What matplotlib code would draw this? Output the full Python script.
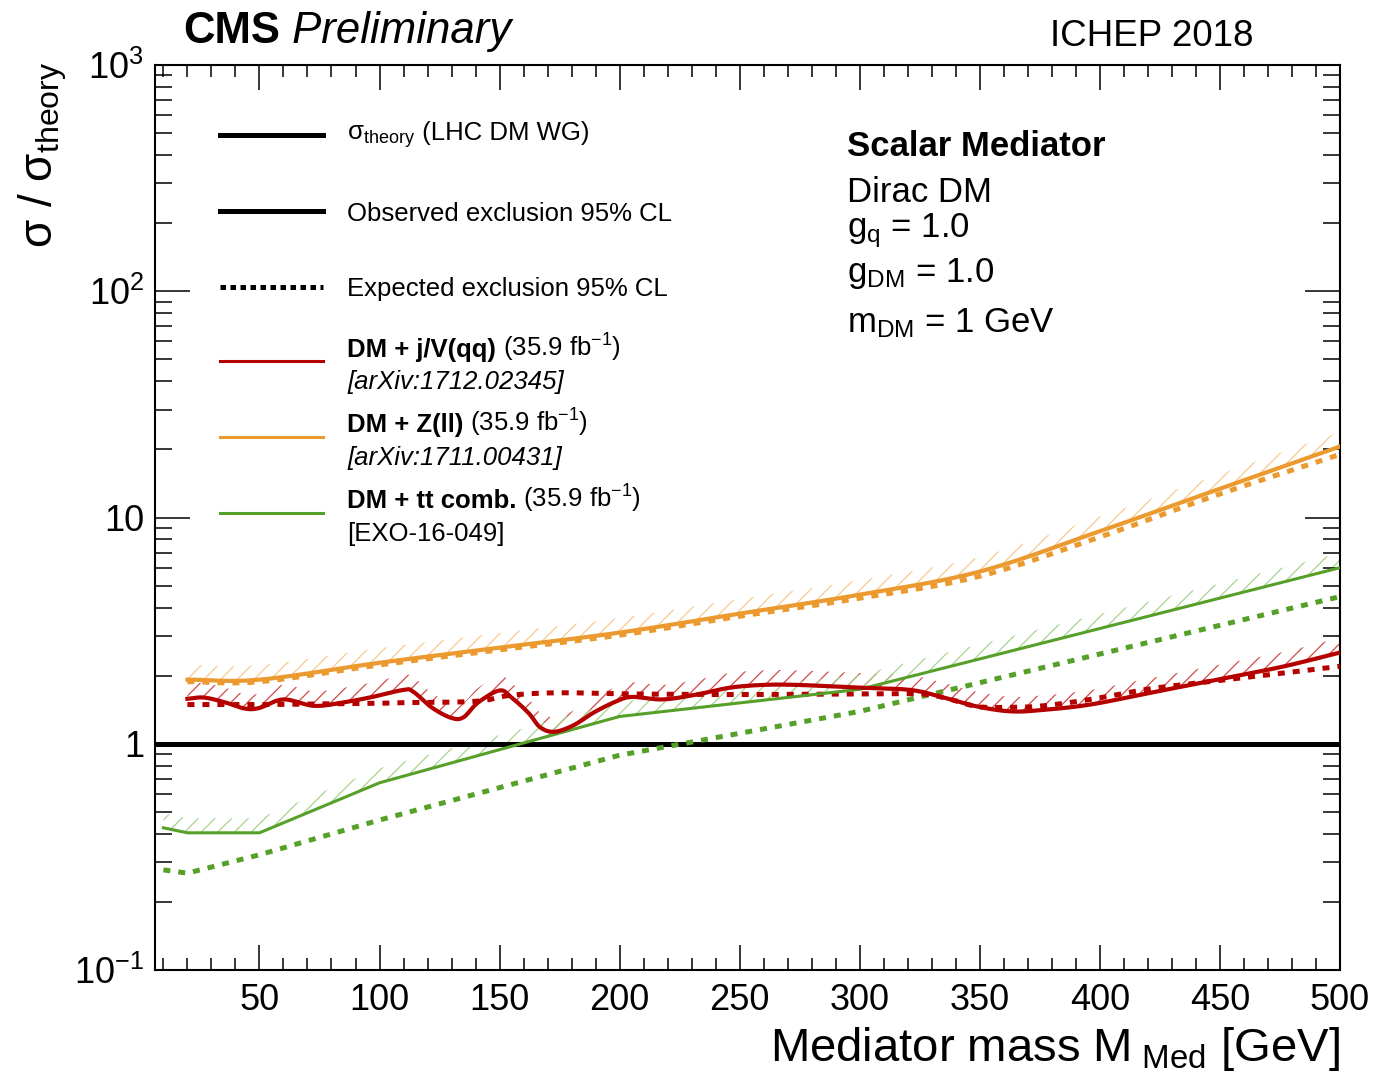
import matplotlib
matplotlib.use('Agg')
import matplotlib.pyplot as plt
import numpy as np
from matplotlib.ticker import MultipleLocator, LogLocator, NullFormatter, FixedLocator, FixedFormatter

plt.rcParams['font.family'] = ['Liberation Sans', 'DejaVu Sans']
plt.rcParams['mathtext.fontset'] = 'custom'
plt.rcParams['mathtext.rm'] = 'Liberation Sans'
plt.rcParams['mathtext.it'] = 'Liberation Sans:italic'
plt.rcParams['mathtext.bf'] = 'Liberation Sans:bold'
plt.rcParams['hatch.linewidth'] = 0.9

# ---------------- data ----------------
jv_obs_mass = [20, 27, 36, 44, 50, 60, 73, 86, 97, 110, 114, 122, 130, 135, 141, 150, 155,
               162, 167, 173, 181, 189, 198, 205, 218, 232, 246, 260, 274, 300, 321, 335,
               349, 363, 376, 396, 421, 449, 476, 500]
jv_obs = [1.58, 1.60, 1.52, 1.43, 1.44, 1.57, 1.47, 1.53, 1.61, 1.73, 1.70, 1.44, 1.30, 1.31,
          1.52, 1.72, 1.60, 1.37, 1.18, 1.13, 1.21, 1.37, 1.53, 1.61, 1.57, 1.65, 1.77, 1.82,
          1.82, 1.77, 1.73, 1.60, 1.46, 1.39, 1.41, 1.49, 1.68, 1.92, 2.19, 2.53]
jv_exp_mass = [20, 50, 75, 100, 110, 140, 155, 175, 205, 250, 300, 325, 335, 349, 363, 376,
               396, 421, 449, 476, 500]
jv_exp = [1.49, 1.49, 1.50, 1.51, 1.52, 1.54, 1.64, 1.68, 1.66, 1.65, 1.66, 1.66, 1.60, 1.46,
          1.45, 1.47, 1.57, 1.75, 1.90, 2.05, 2.20]

zll_mass = [20, 50, 100, 150, 200, 250, 300, 350, 400, 450, 500]
zll_obs = [1.92, 1.92, 2.28, 2.66, 3.10, 3.76, 4.56, 5.77, 8.7, 13.4, 20.6]
zll_exp = [1.88, 1.88, 2.23, 2.60, 3.02, 3.66, 4.40, 5.50, 8.2, 12.7, 19.0]

tt_mass = [10, 20, 50, 100, 200, 300, 500]
tt_obs = [0.425, 0.404, 0.404, 0.672, 1.32, 1.74, 6.0]
tt_exp = [0.277, 0.268, 0.323, 0.46, 0.89, 1.39, 4.47]

y_ticks = [0.1, 1, 10, 100, 1000]
y_tick_labels = [r'$\mathregular{10^{-1}}$', '1', '10', r'$\mathregular{10^{2}}$', r'$\mathregular{10^{3}}$']

RED, ORANGE, GREEN = '#b50000', '#eb9a2f', '#56a02a'
RED_H, ORANGE_H, GREEN_H = '#d24a4a', '#f6c98e', '#a8d290'


def smooth(xs, ys, n=10):
    """Catmull-Rom curve through the read points (like ROOT's 'C' draw option), in log-y."""
    p = np.column_stack([np.asarray(xs, float), np.log10(np.asarray(ys, float))])
    p = np.vstack([2 * p[0] - p[1], p, 2 * p[-1] - p[-2]])
    out = []
    t = np.linspace(0, 1, n, endpoint=False)[:, None]
    for i in range(1, len(p) - 2):
        p0, p1, p2, p3 = p[i - 1], p[i], p[i + 1], p[i + 2]
        seg = 0.5 * ((2 * p1) + (-p0 + p2) * t + (2 * p0 - 5 * p1 + 4 * p2 - p3) * t ** 2
                     + (-p0 + 3 * p1 - 3 * p2 + p3) * t ** 3)
        out.append(seg)
    out.append(p[-2][None, :])
    out = np.vstack(out)
    return out[:, 0], 10 ** out[:, 1]


W, H = 1375, 1080
fig = plt.figure(figsize=(W / 100, H / 100), dpi=100)
ax = fig.add_axes([155 / W, 1 - 970 / H, (1340 - 155) / W, (970 - 65) / H])
ax.set_yscale('log')
ax.set_xlim(6.5, 500)
ax.set_ylim(0.1, 1000)

jv_obs_x, jv_obs_y = smooth(jv_obs_mass, jv_obs)
jv_exp_x, jv_exp_y = smooth(jv_exp_mass, jv_exp)
zll_obs_x, zll_obs_y = smooth(zll_mass, zll_obs)
zll_exp_x, zll_exp_y = smooth(zll_mass, zll_exp)

band = 1.16
for m, v, hc in [(jv_obs_x, jv_obs_y, RED_H), (zll_obs_x, zll_obs_y, ORANGE_H),
                 (np.array(tt_mass, float), np.array(tt_obs), GREEN_H)]:
    ax.fill_between(m, v, v * band, facecolor='none', edgecolor=hc,
                    linewidth=0, hatch='//', zorder=1)

ax.axhline(1, color='black', lw=3.6, zorder=2)

dots = dict(lw=3.6, dashes=(1.4, 1.6), dash_capstyle='butt', zorder=3)
ax.plot(zll_exp_x, zll_exp_y, color=ORANGE, **dots)
ax.plot(tt_mass, tt_exp, color=GREEN, **dots)
ax.plot(jv_exp_x, jv_exp_y, color=RED, **dots)
ax.plot(zll_obs_x, zll_obs_y, color=ORANGE, lw=3.0, zorder=4)
ax.plot(tt_mass, tt_obs, color=GREEN, lw=2.2, zorder=4)
ax.plot(jv_obs_x, jv_obs_y, color=RED, lw=3.0, zorder=4, solid_joinstyle='round')

# axes styling
for s in ax.spines.values():
    s.set_linewidth(1.5)
ax.xaxis.set_major_locator(MultipleLocator(50))
ax.xaxis.set_minor_locator(MultipleLocator(10))
ax.yaxis.set_major_locator(FixedLocator(y_ticks))
ax.yaxis.set_major_formatter(FixedFormatter(y_tick_labels))
ax.yaxis.set_minor_locator(LogLocator(base=10, subs=range(2, 10)))
ax.yaxis.set_minor_formatter(NullFormatter())
ax.tick_params(which='both', direction='in', top=True, right=True, width=1.1, labelsize=26)
ax.tick_params(axis='x', which='major', length=18, pad=9)
ax.tick_params(axis='x', which='minor', length=8.6)
ax.tick_params(axis='y', which='major', length=25, pad=8)
ax.tick_params(axis='y', which='minor', length=12)

# axis titles
fig.text(1340 / W, 1 - 1061 / H, r'Mediator mass M$_{\mathregular{\ Med}}$ [GeV]',
         ha='right', va='baseline', fontsize=34)
fig.text(43 / W, 1 - 62 / H, r'σ / σ$_{\mathregular{theory}}$', rotation=90,
         ha='center', va='top', fontsize=33)

renderer = fig.canvas.get_renderer()


def runs(x, y, parts, size):
    cur = x
    for s, kw in parts:
        t = fig.text(cur / W, 1 - y / H, s, ha='left', va='baseline', fontsize=size, **kw)
        cur += t.get_window_extent(renderer=renderer).width


# header
runs(183, 43, [('CMS', dict(weight='bold')), (' Preliminary', dict(style='italic'))], 31.5)
fig.text(1050 / W, 1 - 46 / H, 'ICHEP 2018', ha='left', va='baseline', fontsize=26.5)

# legend (drawn by hand)
lx0, lx1, tx = 220, 323, 347
fs = 18.5
legend_lines = [
    (135, dict(color='black', lw=3.6)),
    (211, dict(color='black', lw=3.6)),
    (287, dict(color='black', lw=3.6, dashes=(1.1, 0.9), dash_capstyle='butt')),
    (361, dict(color=RED, lw=2.2)),
    (437, dict(color=ORANGE, lw=2.2)),
    (513, dict(color=GREEN, lw=2.2)),
]
for yy, kw in legend_lines:
    fig.add_artist(plt.Line2D([lx0 / W, lx1 / W], [1 - yy / H, 1 - yy / H], **kw))

runs(tx, 140, [(r'σ$_{\mathregular{theory}}$', {}), (' (LHC DM WG)', {})], fs)
runs(tx, 221, [('Observed exclusion 95% CL', {})], fs)
runs(tx, 296, [('Expected exclusion 95% CL', {})], fs)
lumi = r' (35.9 fb$^{\mathregular{-1}}$)'
runs(tx, 357, [('DM + j/V(qq)', dict(weight='bold')), (lumi, {})], fs)
runs(tx, 389, [('[arXiv:1712.02345]', dict(style='italic'))], fs)
runs(tx, 432, [('DM + Z(ll)', dict(weight='bold')), (lumi, {})], fs)
runs(tx, 465, [('[arXiv:1711.00431]', dict(style='italic'))], fs)
runs(tx, 508, [('DM + tt comb.', dict(weight='bold')), (lumi, {})], fs)
runs(tx, 541, [('[EXO-16-049]', {})], fs)

# model block
bx = 847
fig.text(bx / W, 1 - 156 / H, 'Scalar Mediator', weight='bold', fontsize=25, va='baseline')
fig.text(bx / W, 1 - 202 / H, 'Dirac DM', fontsize=25, va='baseline')
fig.text(bx / W, 1 - 237 / H, r'g$_{\mathregular{q}}$ = 1.0', fontsize=25, va='baseline')
fig.text(bx / W, 1 - 282 / H, r'g$_{\mathregular{DM}}$ = 1.0', fontsize=25, va='baseline')
fig.text(bx / W, 1 - 332 / H, r'm$_{\mathregular{DM}}$ = 1 GeV', fontsize=25, va='baseline')

fig.savefig('out.png', dpi=100)
